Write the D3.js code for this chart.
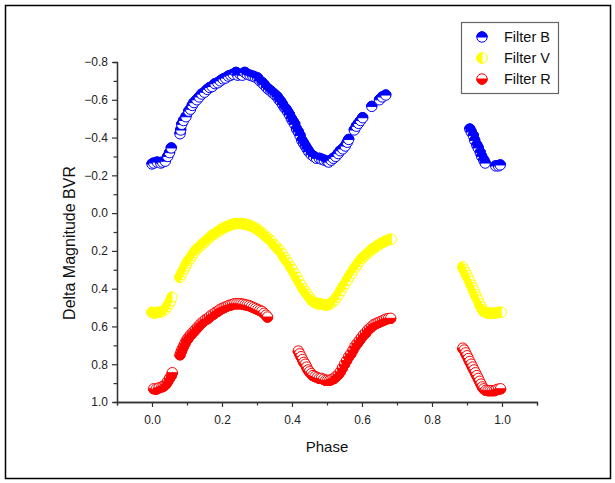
<!DOCTYPE html>
<html>
<head>
<meta charset="utf-8">
<script src="https://cdn.jsdelivr.net/npm/d3@7/dist/d3.min.js"></script>
<style>
  html, body { margin: 0; padding: 0; background: #fff; }
  svg { display: block; font-family: "Liberation Sans", Arial, sans-serif; }
</style>
</head>
<body>
<svg id="chart" width="615" height="483"></svg>
<script>
// phase / delta magnitude
const phaseB = [0.000, 0.005, 0.015, 0.025, 0.030, 0.038, 0.045, 0.050, 0.055,
  0.080, 0.082, 0.085, 0.090, 0.097, 0.105, 0.110, 0.115, 0.120, 0.128, 0.135, 0.142, 0.150,
  0.158, 0.165, 0.172, 0.180, 0.188, 0.195, 0.203, 0.210, 0.218, 0.225, 0.232, 0.240, 0.245,
  0.252, 0.258, 0.265, 0.272, 0.280, 0.288, 0.295, 0.302, 0.308, 0.315, 0.320, 0.327, 0.333,
  0.340, 0.346, 0.352, 0.358, 0.363, 0.368, 0.373, 0.378, 0.383, 0.388, 0.393, 0.398, 0.403,
  0.408, 0.413, 0.418, 0.423, 0.428, 0.433, 0.438, 0.443, 0.448, 0.455, 0.462, 0.470, 0.478,
  0.485, 0.492, 0.500, 0.505, 0.512, 0.518, 0.525, 0.532, 0.538, 0.545, 0.552, 0.558, 0.562,
  0.578, 0.584, 0.590, 0.596, 0.602, 0.628, 0.650, 0.658, 0.668,
  0.908, 0.912, 0.918, 0.922, 0.928, 0.932, 0.938, 0.942, 0.948, 0.952, 0.982, 0.990, 0.995];
const magB = [-0.26, -0.265, -0.27, -0.265, -0.27, -0.275, -0.30, -0.32, -0.345,
  -0.42, -0.44, -0.47, -0.49, -0.51, -0.54, -0.55, -0.57, -0.585, -0.60, -0.615, -0.63, -0.64,
  -0.655, -0.665, -0.67, -0.685, -0.69, -0.70, -0.71, -0.715, -0.725, -0.73, -0.735, -0.745, -0.73,
  -0.735, -0.73, -0.745, -0.735, -0.73, -0.725, -0.72, -0.715, -0.70, -0.69, -0.68, -0.665, -0.655,
  -0.645, -0.635, -0.625, -0.615, -0.60, -0.59, -0.575, -0.56, -0.55, -0.535, -0.52, -0.50, -0.485,
  -0.47, -0.445, -0.43, -0.41, -0.385, -0.37, -0.355, -0.34, -0.325, -0.31, -0.30, -0.29, -0.29,
  -0.285, -0.28, -0.275, -0.27, -0.28, -0.29, -0.30, -0.315, -0.33, -0.34, -0.355, -0.375, -0.39,
  -0.44, -0.46, -0.475, -0.49, -0.505, -0.565, -0.60, -0.615, -0.625,
  -0.445, -0.43, -0.41, -0.385, -0.36, -0.345, -0.32, -0.30, -0.28, -0.265, -0.25, -0.25, -0.255];

const phaseV = [0.000, 0.008, 0.015, 0.022, 0.030, 0.038, 0.044, 0.049, 0.053, 0.057,
  0.080, 0.084, 0.088, 0.092, 0.096, 0.100, 0.105, 0.110, 0.115, 0.120, 0.126, 0.132, 0.138,
  0.144, 0.150, 0.156, 0.162, 0.168, 0.174, 0.180, 0.186, 0.192, 0.198, 0.204, 0.210, 0.216,
  0.222, 0.228, 0.234, 0.240, 0.246, 0.252, 0.258, 0.264, 0.270, 0.276, 0.282, 0.288, 0.294,
  0.300, 0.306, 0.312, 0.318, 0.324, 0.330, 0.336, 0.342, 0.348, 0.354, 0.360, 0.366, 0.372,
  0.378, 0.384, 0.390, 0.396, 0.402, 0.408, 0.414, 0.420, 0.426, 0.432, 0.438, 0.444, 0.450,
  0.456, 0.462, 0.468, 0.474, 0.480, 0.486, 0.492, 0.498, 0.504, 0.510, 0.516, 0.522, 0.528,
  0.534, 0.540, 0.546, 0.552, 0.558, 0.564, 0.570, 0.576, 0.582, 0.588, 0.594, 0.600, 0.606,
  0.612, 0.618, 0.624, 0.630, 0.636, 0.642, 0.648, 0.654, 0.660, 0.666, 0.672, 0.678, 0.684,
  0.888, 0.892, 0.896, 0.900, 0.904, 0.908, 0.912, 0.916, 0.920, 0.924, 0.928, 0.932, 0.936,
  0.940, 0.944, 0.948, 0.954, 0.960, 0.966, 0.972, 0.978, 0.985, 0.992, 0.998];
const magV = [0.525, 0.53, 0.525, 0.525, 0.52, 0.51, 0.495, 0.48, 0.465, 0.445,
  0.34, 0.325, 0.31, 0.295, 0.28, 0.265, 0.25, 0.24, 0.225, 0.21, 0.195, 0.185, 0.175,
  0.165, 0.155, 0.145, 0.135, 0.125, 0.115, 0.11, 0.10, 0.095, 0.085, 0.08, 0.075, 0.07,
  0.065, 0.06, 0.058, 0.055, 0.055, 0.055, 0.056, 0.058, 0.06, 0.063, 0.067, 0.072, 0.078,
  0.085, 0.093, 0.10, 0.11, 0.12, 0.13, 0.14, 0.15, 0.165, 0.175, 0.19, 0.20, 0.215,
  0.235, 0.25, 0.265, 0.285, 0.30, 0.32, 0.34, 0.36, 0.38, 0.40, 0.415, 0.43, 0.445,
  0.46, 0.47, 0.475, 0.48, 0.48, 0.482, 0.485, 0.487, 0.485, 0.48, 0.47, 0.46, 0.445,
  0.43, 0.41, 0.39, 0.375, 0.355, 0.335, 0.32, 0.30, 0.285, 0.27, 0.255, 0.24, 0.23,
  0.22, 0.21, 0.20, 0.19, 0.185, 0.175, 0.17, 0.16, 0.155, 0.15, 0.145, 0.14, 0.138,
  0.285, 0.30, 0.315, 0.33, 0.345, 0.36, 0.38, 0.395, 0.41, 0.43, 0.445, 0.46, 0.48,
  0.495, 0.51, 0.52, 0.525, 0.53, 0.53, 0.53, 0.53, 0.528, 0.525, 0.525];

const phaseR = [0.005, 0.012, 0.020, 0.028, 0.034, 0.040, 0.045, 0.050, 0.055, 0.058,
  0.080, 0.083, 0.086, 0.090, 0.094, 0.098, 0.102, 0.106, 0.110, 0.115, 0.120, 0.125, 0.130,
  0.135, 0.140, 0.146, 0.152, 0.158, 0.164, 0.170, 0.176, 0.182, 0.188, 0.194, 0.200, 0.206,
  0.212, 0.218, 0.224, 0.230, 0.236, 0.242, 0.248, 0.254, 0.260, 0.266, 0.272, 0.278, 0.284,
  0.290, 0.296, 0.302, 0.308, 0.314, 0.320, 0.326, 0.330,
  0.418, 0.422, 0.426, 0.430, 0.434, 0.438, 0.442, 0.446, 0.450, 0.455, 0.460, 0.466, 0.472,
  0.478, 0.484, 0.490, 0.496, 0.502, 0.508, 0.514, 0.520, 0.526, 0.532, 0.538, 0.544, 0.550,
  0.556, 0.562, 0.568, 0.574, 0.580, 0.586, 0.592, 0.598, 0.604, 0.610, 0.616, 0.622, 0.628,
  0.634, 0.640, 0.646, 0.652, 0.658, 0.664, 0.670, 0.676, 0.682,
  0.888, 0.892, 0.896, 0.900, 0.904, 0.908, 0.912, 0.916, 0.920, 0.924, 0.928, 0.932, 0.936,
  0.940, 0.944, 0.948, 0.954, 0.960, 0.966, 0.972, 0.978, 0.984, 0.990, 0.996];
const magR = [0.93, 0.932, 0.925, 0.92, 0.915, 0.905, 0.89, 0.875, 0.86, 0.845,
  0.75, 0.735, 0.72, 0.705, 0.69, 0.675, 0.665, 0.655, 0.645, 0.635, 0.625, 0.615, 0.605,
  0.595, 0.585, 0.575, 0.565, 0.56, 0.55, 0.54, 0.535, 0.525, 0.52, 0.51, 0.505, 0.50,
  0.495, 0.49, 0.487, 0.483, 0.48, 0.48, 0.48, 0.48, 0.482, 0.485, 0.487, 0.49, 0.495,
  0.50, 0.505, 0.51, 0.515, 0.52, 0.53, 0.54, 0.55,
  0.73, 0.745, 0.76, 0.775, 0.79, 0.80, 0.815, 0.83, 0.84, 0.85, 0.86, 0.865, 0.87,
  0.875, 0.875, 0.88, 0.885, 0.885, 0.885, 0.88, 0.875, 0.865, 0.855, 0.84, 0.82, 0.80,
  0.78, 0.76, 0.745, 0.725, 0.705, 0.69, 0.675, 0.66, 0.645, 0.635, 0.62, 0.61, 0.60,
  0.59, 0.585, 0.58, 0.575, 0.57, 0.565, 0.56, 0.558, 0.557,
  0.715, 0.725, 0.74, 0.755, 0.77, 0.785, 0.80, 0.815, 0.83, 0.845, 0.86, 0.875, 0.89,
  0.905, 0.92, 0.93, 0.938, 0.94, 0.94, 0.94, 0.94, 0.935, 0.932, 0.93];

const seriesNames = ['Filter B', 'Filter V', 'Filter R'];
const seriesColors = ['#0000ff', '#ffff00', '#ff0000'];
const seriesHalf = ['top', 'left', 'bottom'];
const xTicks = [0.0, 0.2, 0.4, 0.6, 0.8, 1.0];
const yTicks = [-0.8, -0.6, -0.4, -0.2, 0.0, 0.2, 0.4, 0.6, 0.8, 1.0];

const svg = d3.select('#chart');
const margin = { left: 117, top: 62, right: 78, bottom: 81 };
const width = 615, height = 483;

// outer frame
svg.append('rect')
  .attr('x', 5.5).attr('y', 5.5)
  .attr('width', 605).attr('height', 473)
  .attr('fill', 'none').attr('stroke', '#000').attr('stroke-width', 1.5);

const x = d3.scaleLinear().domain([-0.1, 1.1]).range([margin.left, width - margin.right]);
const y = d3.scaleLinear().domain([-0.8, 1.0]).range([margin.top, height - margin.bottom]);

function styleAxis(g) {
  g.selectAll('path').attr('stroke', '#333').attr('stroke-width', 1.3);
  g.selectAll('line').attr('stroke', '#333').attr('stroke-width', 1.2);
  g.selectAll('text').attr('fill', '#222').attr('font-size', 12)
    .attr('font-family', '"Liberation Sans", Arial, sans-serif');
}

// minor ticks
const xMinor = d3.range(-1, 12, 2).map(function (i) { return i / 10; });
const yMinor = d3.range(-7, 10, 2).map(function (i) { return i / 10; });
svg.append('g')
  .attr('transform', 'translate(0,' + y(1.0) + ')')
  .call(d3.axisBottom(x).tickValues(xMinor).tickSize(3.5).tickFormat(''))
  .call(styleAxis);
svg.append('g')
  .attr('transform', 'translate(' + x(-0.1) + ',0)')
  .call(d3.axisLeft(y).tickValues(yMinor).tickSize(3.5).tickFormat(''))
  .call(styleAxis);

svg.append('g')
  .attr('transform', 'translate(0,' + y(1.0) + ')')
  .call(d3.axisBottom(x).tickValues(xTicks).tickSize(5).tickSizeOuter(0).tickPadding(8)
    .tickFormat(d3.format('.1f')))
  .call(styleAxis);
svg.append('g')
  .attr('transform', 'translate(' + x(-0.1) + ',0)')
  .call(d3.axisLeft(y).tickValues(yTicks).tickSize(5).tickSizeOuter(0).tickPadding(4)
    .tickFormat(d3.format('.1f')))
  .call(styleAxis);

// axis titles
svg.append('text')
  .attr('x', (x(-0.1) + x(1.1)) / 2).attr('y', 452)
  .attr('text-anchor', 'middle').attr('font-size', 15).attr('fill', '#111')
  .text('Phase');
svg.append('text')
  .attr('transform', 'translate(75,243) rotate(-90)')
  .attr('text-anchor', 'middle').attr('font-size', 16).attr('fill', '#111')
  .text('Delta Magnitude BVR');

const r = 5.2;
function halfPath(side) {
  if (side === 'top') return 'M' + (-r) + ',0A' + r + ',' + r + ' 0 0 1 ' + r + ',0Z';
  if (side === 'bottom') return 'M' + r + ',0A' + r + ',' + r + ' 0 0 1 ' + (-r) + ',0Z';
  return 'M0,' + r + 'A' + r + ',' + r + ' 0 0 1 0,' + (-r) + 'Z';
}

function drawMarker(g, cx, cy, color, side) {
  const m = g.append('g').attr('transform', 'translate(' + cx + ',' + cy + ')');
  m.append('circle').attr('r', r).attr('fill', '#fff').attr('stroke', color).attr('stroke-width', 1);
  m.append('path').attr('d', halfPath(side)).attr('fill', color).attr('stroke', color).attr('stroke-width', 1);
}

const allSeries = [
  { phase: phaseB, mag: magB },
  { phase: phaseV, mag: magV },
  { phase: phaseR, mag: magR },
];

const plot = svg.append('g');
allSeries.forEach(function (s, k) {
  for (let i = 0; i < s.phase.length; i += 1) {
    drawMarker(plot, x(s.phase[i]), y(s.mag[i]), seriesColors[k], seriesHalf[k]);
  }
});

// legend
const legend = svg.append('g');
legend.append('rect')
  .attr('x', 461.5).attr('y', 22.5).attr('width', 97).attr('height', 71)
  .attr('fill', '#fff').attr('stroke', '#666').attr('stroke-width', 1.2);
seriesNames.forEach(function (name, k) {
  const cy = 37 + k * 21;
  drawMarker(legend, 482, cy, seriesColors[k], seriesHalf[k]);
  legend.append('text')
    .attr('x', 504).attr('y', cy + 5)
    .attr('font-size', 14.5).attr('fill', '#111')
    .text(name);
});
</script>
</body>
</html>
